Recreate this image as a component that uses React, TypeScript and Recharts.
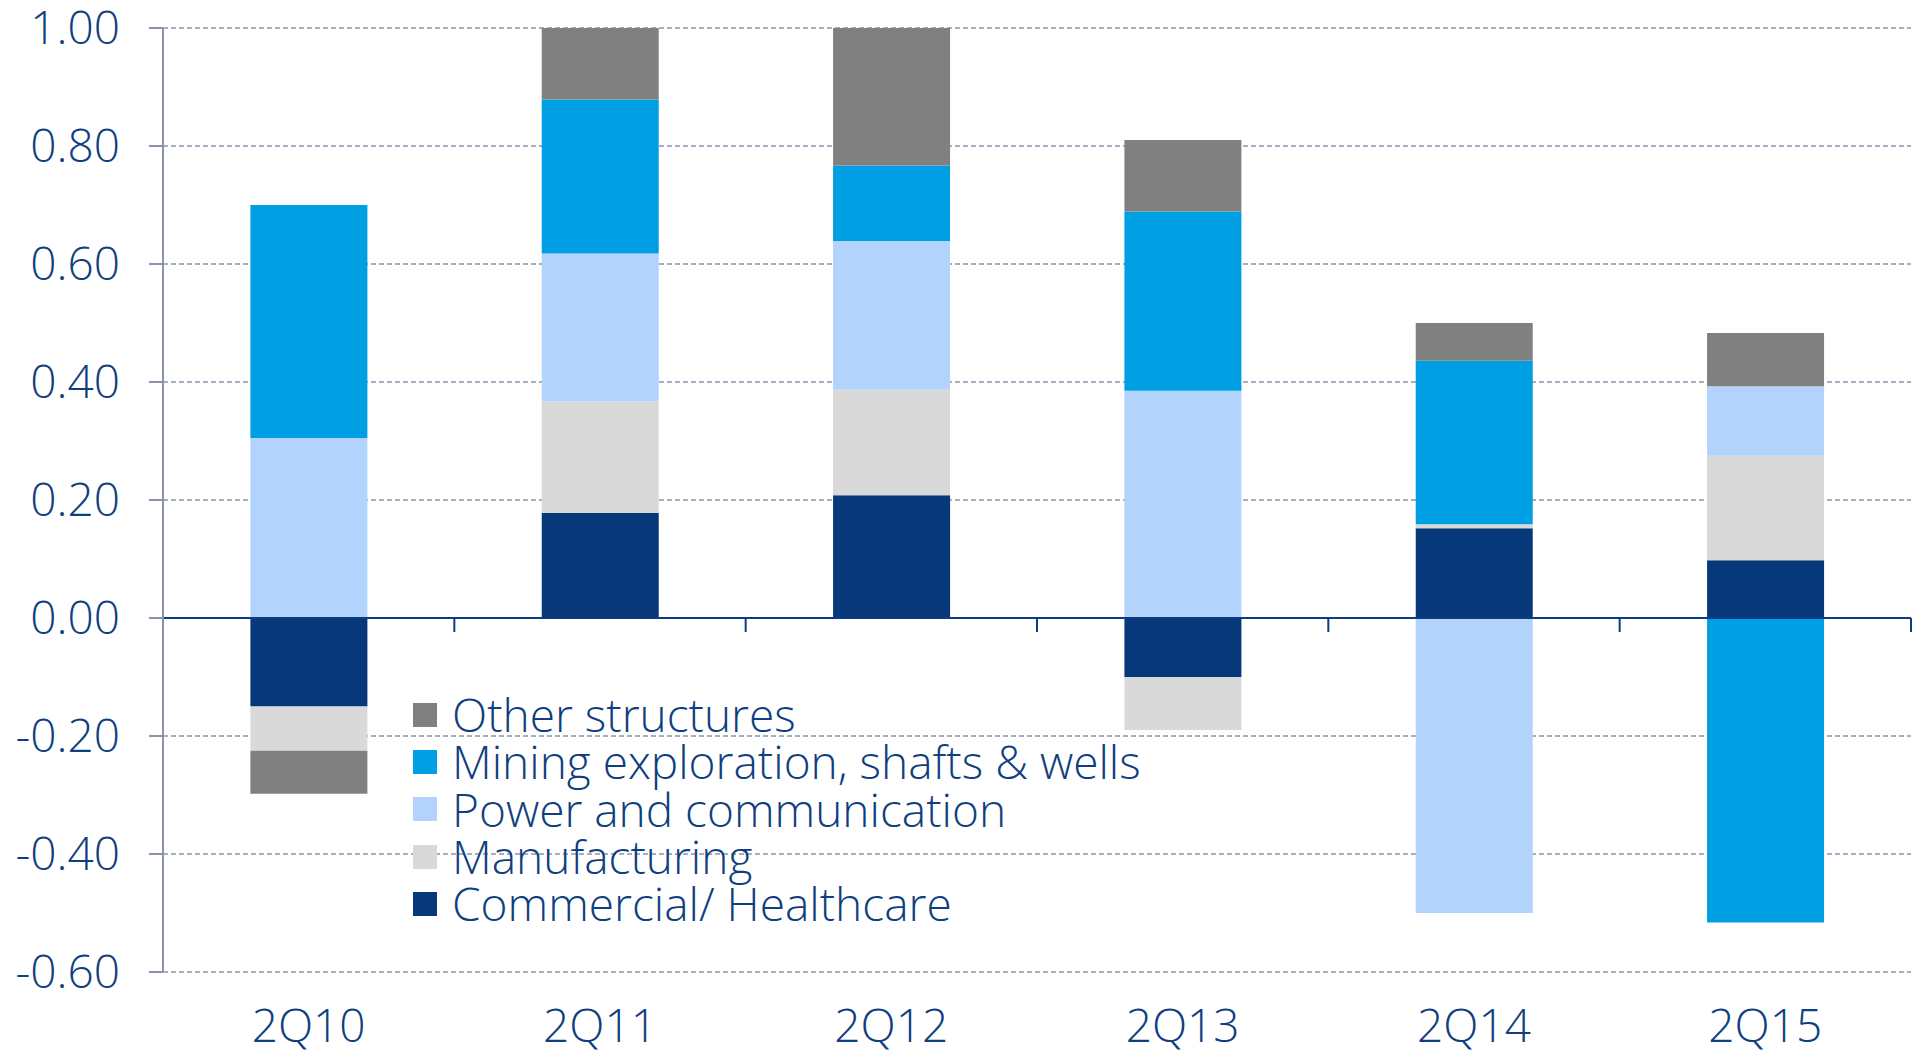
import {
  BarChart, Bar, XAxis, YAxis, CartesianGrid, ReferenceLine
} from 'recharts';

const categories = ['2Q10', '2Q11', '2Q12', '2Q13', '2Q14', '2Q15'];
const commercial = [-0.15, 0.178, 0.208, -0.1, 0.152, 0.098];
const manufacturing = [-0.075, 0.189, 0.179, -0.09, 0.007, 0.177];
const power = [0.305, 0.251, 0.252, 0.385, -0.5, 0.118];
const mining = [0.395, 0.261, 0.128, 0.304, 0.277, -0.516];
const other = [-0.073, 0.121, 0.233, 0.121, 0.064, 0.09];
const yTicks = [-0.6, -0.4, -0.2, 0, 0.2, 0.4, 0.6, 0.8, 1.0];

const series = [
  { key: 'Commercial/ Healthcare', values: commercial, color: '#07397a' },
  { key: 'Manufacturing', values: manufacturing, color: '#d9d9d9' },
  { key: 'Power and communication', values: power, color: '#b2d3fb' },
  { key: 'Mining exploration, shafts & wells', values: mining, color: '#009fe3' },
  { key: 'Other structures', values: other, color: '#808080' },
];

const data = categories.map((c, i) => {
  const row: any = { name: c };
  series.forEach((s) => { row[s.key] = s.values[i]; });
  return row;
});

const TEXT = '#0f3f80';
const GRID = '#8d92ad';
const FONT = '"Open Sans", "DejaVu Sans", sans-serif';

// zero line with small tick marks at category boundaries
const ZeroLine = (props: any) => {
  const { x1, y1, x2 } = props;
  const step = (x2 - x1) / categories.length;
  const marks = [];
  for (let i = 0; i <= categories.length; i++) {
    const x = x1 + step * i;
    marks.push(<line key={i} x1={x} y1={y1} x2={x} y2={y1 + 14} stroke="#0d3c84" strokeWidth={2} />);
  }
  return (
    <g>
      <line x1={x1} y1={y1} x2={x2} y2={y1} stroke="#0d3c84" strokeWidth={2} />
      {marks}
    </g>
  );
};

const LegendBox = () => {
  const items = [...series].reverse();
  return (
    <div style={{ position: 'absolute', left: 413, top: 691, fontFamily: FONT, fontWeight: 300 }}>
      {items.map((s) => (
        <div key={s.key} style={{ display: 'flex', alignItems: 'center', height: 47.3 }}>
          <span style={{ display: 'inline-block', width: 24, height: 24, background: s.color, marginRight: 15 }} />
          <span style={{ color: TEXT, fontSize: 46, lineHeight: '47px', whiteSpace: 'nowrap' }}>{s.key}</span>
        </div>
      ))}
    </div>
  );
};

export default function App() {
  return (
    <div style={{ position: 'absolute', left: 0, top: 0, width: 1932, height: 1050, background: '#ffffff' }}>
      <BarChart
        width={1932}
        height={1050}
        data={data}
        stackOffset="sign"
        barCategoryGap="30%"
        margin={{ top: 28, right: 21, left: 0, bottom: 0 }}
      >
        <CartesianGrid vertical={false} stroke={GRID} strokeWidth={1.5} strokeDasharray="5 3" />
        <XAxis
          dataKey="name"
          axisLine={false}
          tickLine={false}
          tickSize={0}
          tickMargin={37}
          height={78}
          interval={0}
          tick={{ fill: TEXT, fontSize: 46, fontFamily: FONT, fontWeight: 300 }}
        />
        <YAxis
          domain={[-0.6, 1]}
          ticks={yTicks}
          interval={0}
          width={163}
          tickSize={14}
          tickMargin={29}
          axisLine={{ stroke: GRID, strokeWidth: 2 }}
          tickLine={{ stroke: GRID, strokeWidth: 2 }}
          tickFormatter={(v: number) => v.toFixed(2)}
          tick={{ fill: TEXT, fontSize: 46, fontFamily: FONT, fontWeight: 300 }}
        />
        {series.map((s) => (
          <Bar key={s.key} dataKey={s.key} stackId="a" fill={s.color} isAnimationActive={false} />
        ))}
        <ReferenceLine y={0} shape={<ZeroLine />} />
      </BarChart>
      <LegendBox />
    </div>
  );
}
